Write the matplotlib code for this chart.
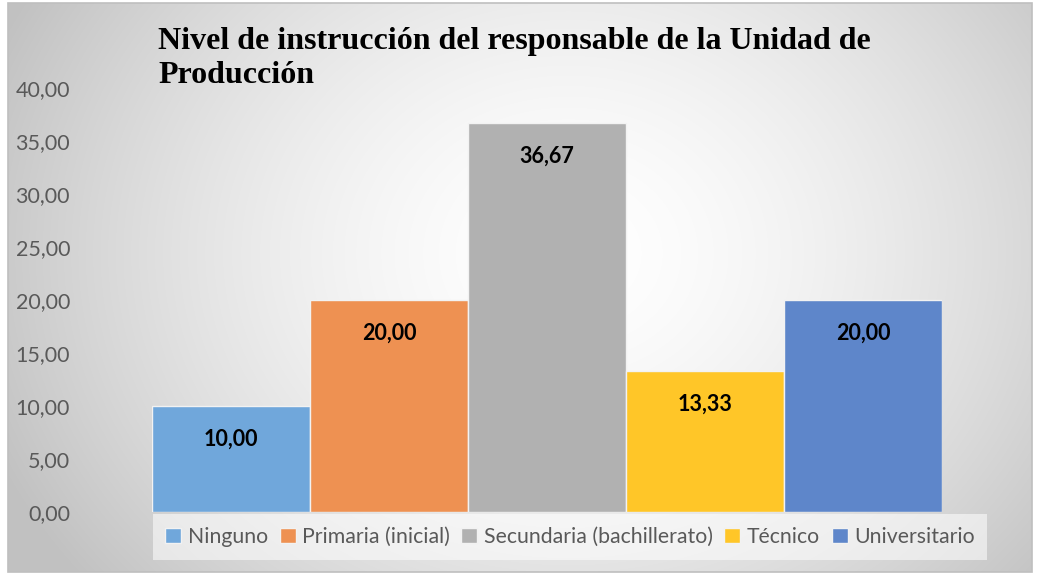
import numpy as np
import matplotlib
matplotlib.use("Agg")
import matplotlib.pyplot as plt
from matplotlib.patches import Rectangle

categorias = ["Ninguno", "Primaria (inicial)", "Secundaria (bachillerato)", "Técnico", "Universitario"]
valores = [10.00, 20.00, 36.67, 13.33, 20.00]
colores = ["#70A7DB", "#EE9152", "#B1B1B1", "#FFC628", "#5E86CA"]
yticks = [0, 5, 10, 15, 20, 25, 30, 35, 40]

W, H = 1040, 575
fig = plt.figure(figsize=(W / 100, H / 100), dpi=100)

# fondo con degradado radial
bg = fig.add_axes([8 / W, 3 / H, 1024 / W, 569 / H], zorder=-10)
yy, xx = np.mgrid[0:569, 0:1024]
r = np.sqrt(((xx - 560) / 620.0) ** 2 + ((yy - 250) / 520.0) ** 2)
g = 1.0 - 0.24 * np.clip(r, 0, 1.25) ** 1.6
g = np.clip(g, 0.76, 1.0)
bg.imshow(np.dstack([g, g, g]), aspect="auto", extent=[0, 1, 0, 1])
bg.set_axis_off()
fig.patches.append(Rectangle((8 / W, 3 / H), 1024 / W, 569 / H, transform=fig.transFigure,
                             fill=False, edgecolor="#BFBFBF", linewidth=1.2, zorder=5))

ax = fig.add_axes([152 / W, 1 - 512 / H, 790 / W, (512 - 88) / H])
ax.patch.set_alpha(0)
x = np.arange(len(categorias))
ax.bar(x, valores, width=1.0, color=colores, edgecolor="#F2F2F2", linewidth=1.0)
ax.set_xlim(-0.5, len(categorias) - 0.5)
ax.set_ylim(0, 40)
ax.set_yticks(yticks)
ax.set_yticklabels([f"{v:.2f}".replace(".", ",") for v in yticks],
                   fontsize=15.5, color="#595959", family="Lato")
ax.tick_params(axis="y", length=0, pad=59)
ax.set_xticks([])
for s in ax.spines.values():
    s.set_visible(False)

for xi, v in zip(x, valores):
    ax.annotate(f"{v:.2f}".replace(".", ","), (xi, v), xytext=(0, -24), textcoords="offset points",
                ha="center", va="center", fontsize=15.5, fontweight="bold", family="Lato", color="black")

handles = [Rectangle((0, 0), 1, 1, facecolor=c, edgecolor="#F2F2F2") for c in colores]
leg = fig.legend(handles, categorias, loc="center", bbox_to_anchor=(570 / W, 1 - 537 / H),
                 ncol=5, frameon=True, handlelength=0.75, handleheight=0.75,
                 handletextpad=0.3, columnspacing=0.55, borderpad=0.6,
                 prop={"family": "Lato", "size": 15.3})
leg.get_frame().set_facecolor("white")
leg.get_frame().set_alpha(0.55)
leg.get_frame().set_edgecolor("none")
leg.get_frame().set_boxstyle("square", pad=0.0)
for t in leg.get_texts():
    t.set_color("#595959")

fig.text(158 / W, 1 - 27 / H, "Nivel de instrucción del responsable de la Unidad de\nProducción",
         ha="left", va="top", fontsize=23, fontweight="bold", family="Liberation Serif",
         linespacing=1.22)

fig.savefig("out.png", dpi=100)
